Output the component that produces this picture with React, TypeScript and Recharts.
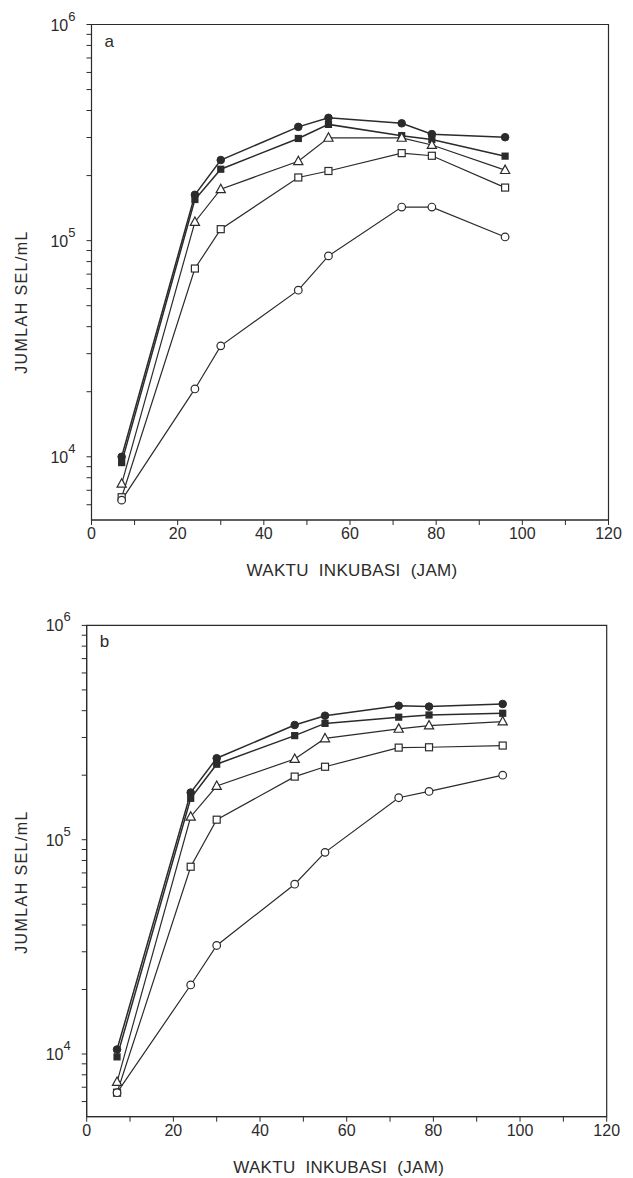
import { LineChart, Line, XAxis, YAxis, ReferenceArea, Label } from "recharts";

// incubation time (hours)
const hours = [7, 24, 30, 48, 55, 72, 79, 96];

// panel a, cells/mL
const aFilledCircle = [10000, 163000, 236000, 336000, 370000, 349000, 311000, 301000];
const aFilledSquare = [9400, 155000, 214000, 297000, 345000, 306000, 294000, 246000];
const aTriangle = [7500, 122000, 173000, 233000, 299000, 299000, 277000, 212000];
const aOpenSquare = [6500, 74300, 113000, 196000, 210000, 254000, 247000, 176000];
const aOpenCircle = [6300, 20600, 32600, 59000, 85000, 143000, 143000, 104000];

// panel b, cells/mL
const bFilledCircle = [10500, 166000, 240000, 343000, 379000, 422000, 418000, 430000];
const bFilledSquare = [9700, 156000, 225000, 306000, 349000, 373000, 382000, 389000];
const bTriangle = [7400, 128000, 178000, 238000, 297000, 329000, 341000, 356000];
const bOpenSquare = [6600, 74800, 124000, 197000, 219000, 269000, 270000, 275000];
const bOpenCircle = [6600, 21000, 32100, 62000, 87300, 157000, 168000, 200000];

const xTicks = [0, 10, 20, 30, 40, 50, 60, 70, 80, 90, 100, 110, 120];
const yTicks = [
  6000, 7000, 8000, 9000, 10000,
  20000, 30000, 40000, 50000, 60000, 70000, 80000, 90000, 100000,
  200000, 300000, 400000, 500000, 600000, 700000, 800000, 900000, 1000000,
];
const yMin = 5100;
const yMax = 1000000;

const INK = "#2b2b2b";
const FONT = "'Liberation Sans', Arial, sans-serif";

function toRows(fc: number[], fs: number[], tr: number[], os: number[], oc: number[]) {
  return hours.map((h, i) => ({ h, fc: fc[i], fs: fs[i], tr: tr[i], os: os[i], oc: oc[i] }));
}

const rowsA = toRows(aFilledCircle, aFilledSquare, aTriangle, aOpenSquare, aOpenCircle);
const rowsB = toRows(bFilledCircle, bFilledSquare, bTriangle, bOpenSquare, bOpenCircle);

// markers
const FilledCircle = (p: any) => <circle key={p.index} cx={p.cx} cy={p.cy} r={3.8} fill={INK} stroke={INK} />;
const OpenCircle = (p: any) => <circle key={p.index} cx={p.cx} cy={p.cy} r={3.8} fill="#fff" stroke={INK} strokeWidth={1.2} />;
const FilledSquare = (p: any) => <rect key={p.index} x={p.cx - 3.6} y={p.cy - 3.6} width={7.2} height={7.2} fill={INK} />;
const OpenSquare = (p: any) => (
  <rect key={p.index} x={p.cx - 3.5} y={p.cy - 3.5} width={7} height={7} fill="#fff" stroke={INK} strokeWidth={1.2} />
);
const OpenTriangle = (p: any) => (
  <polygon
    key={p.index}
    points={`${p.cx},${p.cy - 5} ${p.cx - 4.6},${p.cy + 3.4} ${p.cx + 4.6},${p.cy + 3.4}`}
    fill="#fff"
    stroke={INK}
    strokeWidth={1.2}
  />
);

const XTick = (p: any) => {
  const v = p.payload.value;
  if (v % 20 !== 0) return null;
  return (
    <text x={p.x} y={p.y} dy={12} textAnchor="middle" fontSize={16} fill={INK} fontFamily={FONT}>
      {v}
    </text>
  );
};

const YTick = (p: any) => {
  const v = p.payload.value;
  const exp = Math.log10(v);
  if (Math.abs(exp - Math.round(exp)) > 1e-9) return null;
  return (
    <text x={p.x - 9} y={p.y} dy={6} textAnchor="end" fontSize={16} fill={INK} fontFamily={FONT}>
      10
      <tspan dy={-10} fontSize={13}>{Math.round(exp)}</tspan>
    </text>
  );
};

interface PanelProps {
  rows: Array<Record<string, number>>;
  letter: string;
  height: number;
  margin: { top: number; right: number; bottom: number; left: number };
  yLabelY: number;
  titleDx: number;
}

function Panel({ rows, letter, height, margin, yLabelY, titleDx }: PanelProps) {
  const plotLeft = margin.left + 60;
  return (
    <LineChart width={633} height={height} data={rows} margin={margin}>
      <XAxis
        dataKey="h"
        type="number"
        domain={[0, 120]}
        ticks={xTicks}
        interval={0}
        tickSize={5}
        tick={<XTick />}
        stroke={INK}
        height={30}
      >
        <Label
          value={"WAKTU\u00a0\u00a0INKUBASI\u00a0\u00a0(JAM)"}
          position="insideBottom"
          offset={-26}
          dx={titleDx}
          fontSize={17}
          fill={INK}
          fontFamily={FONT}
          letterSpacing={0.3}
        />
      </XAxis>
      <YAxis
        type="number"
        scale="log"
        domain={[yMin, yMax]}
        allowDataOverflow
        ticks={yTicks}
        interval={0}
        tickSize={5}
        tick={<YTick />}
        stroke={INK}
        width={60}
      />
      <ReferenceArea x1={0} x2={120} y1={yMin} y2={yMax} fill="none" stroke={INK} strokeWidth={1.2} />
      <Line dataKey="fc" stroke={INK} strokeWidth={1.5} dot={FilledCircle} isAnimationActive={false} />
      <Line dataKey="fs" stroke={INK} strokeWidth={1.5} dot={FilledSquare} isAnimationActive={false} />
      <Line dataKey="tr" stroke={INK} strokeWidth={1.2} dot={OpenTriangle} isAnimationActive={false} />
      <Line dataKey="os" stroke={INK} strokeWidth={1.2} dot={OpenSquare} isAnimationActive={false} />
      <Line dataKey="oc" stroke={INK} strokeWidth={1.2} dot={OpenCircle} isAnimationActive={false} />
      <text x={plotLeft + 13} y={margin.top + 22} fontSize={17} fill={INK} fontFamily={FONT}>
        {letter}
      </text>
      <text
        x={21}
        y={yLabelY}
        transform={`rotate(-90, 21, ${yLabelY})`}
        textAnchor="middle"
        dominantBaseline="central"
        fontSize={16}
        fill={INK}
        fontFamily={FONT}
        letterSpacing={1.4}
      >
        JUMLAH  SEL/mL
      </text>
    </LineChart>
  );
}

export default function App() {
  return (
    <div style={{ position: "absolute", top: 0, left: 0, width: 633, background: "#fff" }}>
      <Panel
        rows={rowsA}
        letter="a"
        height={590}
        margin={{ top: 24.5, right: 24.5, bottom: 40, left: 31.5 }}
        yLabelY={302}
        titleDx={2}
      />
      <Panel
        rows={rowsB}
        letter="b"
        height={588}
        margin={{ top: 35.4, right: 26.3, bottom: 31.3, left: 26.7 }}
        yLabelY={292}
        titleDx={-8}
      />
    </div>
  );
}
